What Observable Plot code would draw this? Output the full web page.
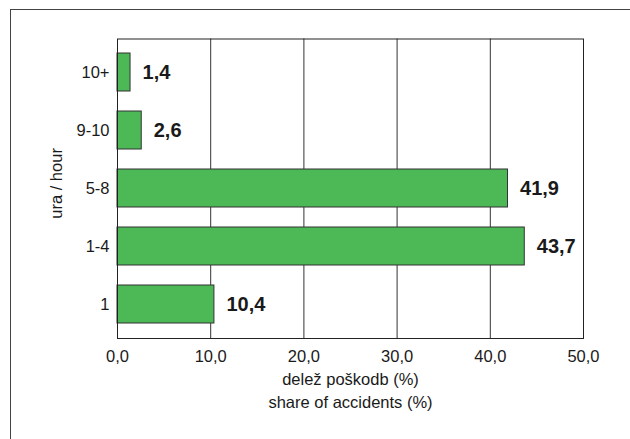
<!DOCTYPE html>
<html>
<head>
<meta charset="utf-8">
<script src="https://cdn.jsdelivr.net/npm/d3@7"></script>
<script src="https://cdn.jsdelivr.net/npm/@observablehq/plot@0.6"></script>
<style>
  html, body { margin: 0; padding: 0; background: #fff; overflow: hidden; width: 630px; height: 439px; }
  #wrap { position: relative; width: 630px; height: 439px; }
  #outer { position: absolute; left: 10px; top: 9px; width: 700px; height: 500px; border-left: 1.5px solid #444; border-top: 1.5px solid #444; box-sizing: border-box; pointer-events: none; }
  #chart { position: absolute; left: 0; top: 0; }
</style>
</head>
<body>
<div id="wrap">
  <div id="chart"></div>
  <div id="outer"></div>
</div>
<script>
const categories = ["10+", "9-10", "5-8", "1-4", "1"];
const values = [1.4, 2.6, 41.9, 43.7, 10.4];
const xTicks = [0, 10, 20, 30, 40, 50];
const gridTicks = [10, 20, 30, 40];
const xTitle1 = "delež poškodb (%)";
const xTitle2 = "share of accidents (%)";
const yTitle = "ura / hour";

const data = categories.map((c, i) => ({category: c, value: values[i]}));
const fmt = v => v.toFixed(1).replace(".", ",");
const font = "'Liberation Sans', Arial, Helvetica, sans-serif";
const ink = "#1a1a1a";

const chart = Plot.plot({
  width: 630,
  height: 439,
  marginLeft: 117,
  marginRight: 47,
  marginTop: 38.5,
  marginBottom: 101,
  style: {fontFamily: font, fontSize: "16.5px", color: ink, background: "transparent"},
  x: {domain: [0, 50]},
  y: {domain: categories, paddingInner: 0.35, paddingOuter: 0.175, inset: 3},
  marks: [
    Plot.ruleX(gridTicks, {stroke: "#333", strokeWidth: 1}),
    Plot.barX(data, {x: "value", y: "category", fill: "#4cb856", stroke: "#333", strokeWidth: 1}),
    Plot.text(data, {x: "value", y: "category", text: d => fmt(d.value), textAnchor: "start", dx: 12, fontWeight: "bold", fontSize: 20, fontFamily: font, fill: ink}),
    Plot.frame({stroke: "#222", strokeWidth: 1}),
    Plot.axisX({ticks: xTicks, tickFormat: fmt, tickSize: 0, tickPadding: 12, label: null, fontSize: 16.5, fontFamily: font, fill: ink}),
    Plot.axisY({tickSize: 0, tickPadding: 8, label: null, fontSize: 16.5, fontFamily: font, fill: ink}),
    Plot.text([xTitle1], {frameAnchor: "bottom", text: d => d, dy: 46, fontSize: 16.5, fontFamily: font, fill: ink}),
    Plot.text([xTitle2], {frameAnchor: "bottom", text: d => d, dy: 69, fontSize: 16.5, fontFamily: font, fill: ink}),
    Plot.text([yTitle], {frameAnchor: "left", text: d => d, dx: -61, dy: 30, rotate: -90, fontSize: 16.5, fontFamily: font, fill: ink})
  ]
});
document.getElementById("chart").appendChild(chart);
</script>
</body>
</html>
